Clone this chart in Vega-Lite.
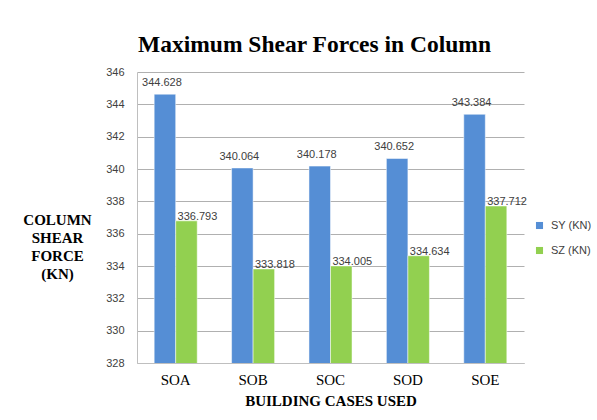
{
  "$schema": "https://vega.github.io/schema/vega-lite/v6.json",
  "autosize": "none",
  "width": 387,
  "height": 291,
  "padding": {"left": 137, "top": 72, "right": 73, "bottom": 57},
  "background": "white",
  "title": {
    "text": "Maximum Shear Forces in Column",
    "font": "Liberation Serif",
    "fontSize": 23.5,
    "fontWeight": "bold",
    "color": "#000000",
    "anchor": "middle",
    "dx": -16,
    "baseline": "alphabetic",
    "offset": -9
  },
  "data": {
    "values": [
      {"case": "SOA", "series": "SY (KN)", "force": 344.628},
      {"case": "SOA", "series": "SZ (KN)", "force": 336.793},
      {"case": "SOB", "series": "SY (KN)", "force": 340.064},
      {"case": "SOB", "series": "SZ (KN)", "force": 333.818},
      {"case": "SOC", "series": "SY (KN)", "force": 340.178},
      {"case": "SOC", "series": "SZ (KN)", "force": 334.005},
      {"case": "SOD", "series": "SY (KN)", "force": 340.652},
      {"case": "SOD", "series": "SZ (KN)", "force": 334.634},
      {"case": "SOE", "series": "SY (KN)", "force": 343.384},
      {"case": "SOE", "series": "SZ (KN)", "force": 337.712}
    ]
  },
  "encoding": {
    "x": {
      "field": "case",
      "type": "nominal",
      "sort": null,
      "scale": {"paddingInner": 0.444, "paddingOuter": 0.222},
      "axis": {
        "title": "BUILDING CASES USED",
        "titleFont": "Liberation Serif",
        "titleFontSize": 15,
        "titleFontWeight": "bold",
        "titleColor": "#000000",
        "titlePadding": 6,
        "labelAngle": 0,
        "labelFont": "Liberation Serif",
        "labelFontSize": 15,
        "labelColor": "#000000",
        "labelPadding": 9,
        "ticks": false,
        "domainColor": "#bfbfbf",
        "grid": false
      }
    },
    "xOffset": {"field": "series", "type": "nominal"},
    "y": {
      "field": "force",
      "type": "quantitative",
      "scale": {"domain": [328, 346], "nice": false, "zero": false},
      "axis": {
        "values": [328, 330, 332, 334, 336, 338, 340, 342, 344, 346],
        "title": ["COLUMN", "SHEAR", "FORCE", "(KN)"],
        "titleFont": "Liberation Serif",
        "titleFontSize": 15,
        "titleFontWeight": "bold",
        "titleColor": "#000000",
        "titleAngle": 0,
        "titleAlign": "center",
        "titleBaseline": "middle",
        "titleLineHeight": 18,
        "titleX": -80,
        "titleY": 147,
        "labelFont": "Liberation Sans",
        "labelFontSize": 11,
        "labelColor": "#404040",
        "labelPadding": 13,
        "ticks": false,
        "domainColor": "#bfbfbf",
        "gridColor": "#b0b0b0"
      }
    }
  },
  "layer": [
    {
      "mark": {"type": "bar", "stroke": "white", "strokeWidth": 0.5, "clip": true},
      "encoding": {
        "color": {
          "field": "series",
          "type": "nominal",
          "scale": {"domain": ["SY (KN)", "SZ (KN)"], "range": ["#558ED5", "#92D050"]},
          "legend": {
            "title": null,
            "orient": "none",
            "legendX": 397,
            "legendY": 148,
            "symbolType": "square",
            "symbolSize": 50,
            "symbolStrokeWidth": 0,
            "labelFont": "Liberation Sans",
            "labelFontSize": 11,
            "labelColor": "#404040",
            "rowPadding": 13,
            "labelOffset": 6
          }
        }
      }
    },
    {
      "transform": [{"filter": "datum.series === 'SY (KN)'"}],
      "mark": {"type": "text", "font": "Liberation Sans", "fontSize": 11, "color": "#404040", "baseline": "bottom", "dx": -3, "dy": -6},
      "encoding": {"text": {"field": "force", "type": "quantitative", "format": ".3f"}}
    },
    {
      "transform": [{"filter": "datum.series === 'SZ (KN)'"}],
      "mark": {"type": "text", "font": "Liberation Sans", "fontSize": 11, "color": "#404040", "baseline": "middle", "dx": 11, "dy": -4},
      "encoding": {"text": {"field": "force", "type": "quantitative", "format": ".3f"}}
    }
  ],
  "config": {"view": {"stroke": null}}
}
